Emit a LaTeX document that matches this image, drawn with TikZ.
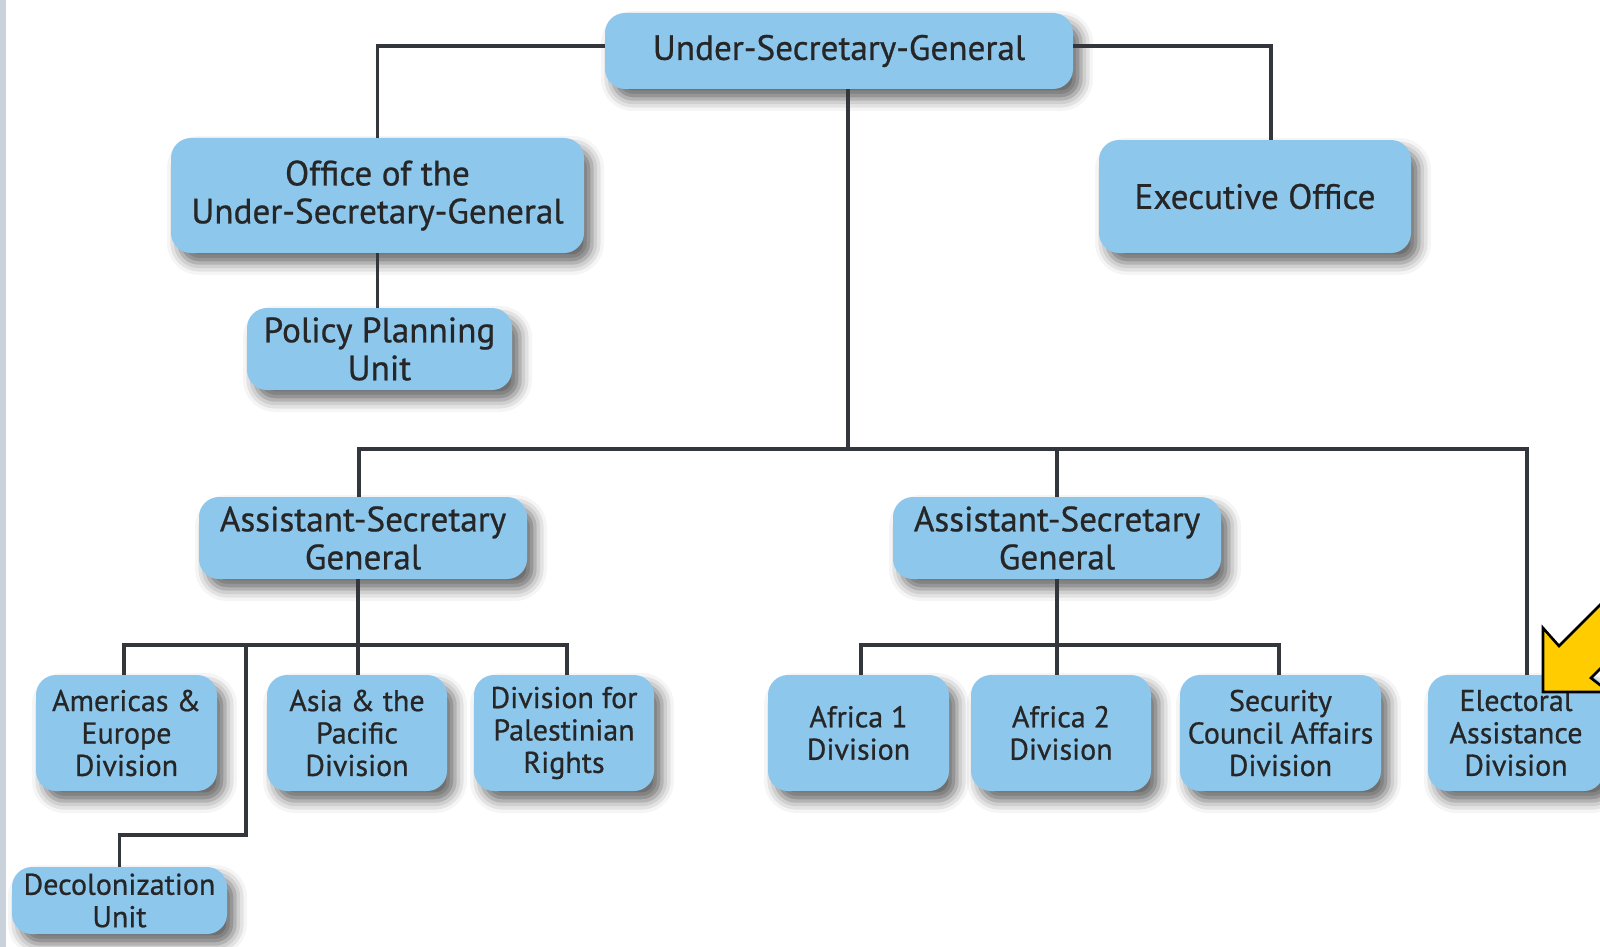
\documentclass[tikz,border=0pt]{standalone}
\usepackage{fontspec}
\setmainfont{PT Sans}
\newfontfamily\orgfont{PT Sans}[FakeBold=0.7]
\usetikzlibrary{shadows.blur}
\definecolor{boxblue}{HTML}{8EC7EC}
\definecolor{linegray}{HTML}{33373C}
\definecolor{textgray}{HTML}{262626}
\definecolor{stripgray}{HTML}{C9D1DA}
\definecolor{arrowgold}{HTML}{FFCC00}

\begin{document}
\begin{tikzpicture}[x=0.5pt, y=-0.5pt,
  orgbox/.style={fill=boxblue, rounded corners=10pt, align=center, text=textgray, inner sep=0pt,
    blur shadow={shadow xshift=4pt, shadow yshift=-5pt, shadow blur radius=6pt, shadow opacity=60}},
  bigbox/.style={orgbox, font=\orgfont\fontsize{17.6}{19}\selectfont},
  smallbox/.style={orgbox, font=\orgfont\fontsize{15}{16.2}\selectfont},
  link/.style={draw=linegray, line width=1.6pt}]
\useasboundingbox (0,0) rectangle (1600,947);
\clip (0,0) rectangle (1600,947);
\fill[stripgray] (0,0) rectangle (6,947);

% top level
\node[bigbox, minimum width=234pt, minimum height=38pt] (usg) at (839,51) {Under-Secretary-General};
\node[bigbox, minimum width=206.5pt, minimum height=57.5pt] (office) at (377.5,195.5) {Office of the\\Under-Secretary-General};
\node[bigbox, minimum width=156pt, minimum height=56.5pt] (exec) at (1255,196.5) {Executive Office};
\node[bigbox, minimum width=132.5pt, minimum height=41pt] (policy) at (379.5,349) {Policy Planning\\Unit};

% assistant secretaries
\node[bigbox, minimum width=164pt, minimum height=41pt] (asgA) at (363,538) {Assistant-Secretary\\General};
\node[bigbox, minimum width=164pt, minimum height=41pt] (asgB) at (1057,538) {Assistant-Secretary\\General};

% divisions
\node[smallbox, minimum width=90.5pt, minimum height=58pt] (americas) at (126.5,733) {Americas \&\\Europe\\Division};
\node[smallbox, minimum width=90pt, minimum height=58pt] (asia) at (357,733) {Asia \& the\\Pacific\\Division};
\node[smallbox, minimum width=90pt, minimum height=58pt] (palestine) at (564,733) {Division for\\Palestinian\\Rights};
\node[smallbox, minimum width=107.5pt, minimum height=33.5pt] (decol) at (119.5,900.5) {Decolonization\\Unit};
\node[smallbox, minimum width=90.5pt, minimum height=58pt] (africaA) at (858.5,733) {Africa 1\\Division};
\node[smallbox, minimum width=90pt, minimum height=58pt] (africaB) at (1061,733) {Africa 2\\Division};
\node[smallbox, minimum width=100.5pt, minimum height=58pt] (council) at (1280.5,733) {Security\\Council Affairs\\Division};
\node[smallbox, minimum width=88pt, minimum height=58pt] (electoral) at (1516,733) {Electoral\\Assistance\\Division};

% connectors
\coordinate (hub) at (848,449);
\coordinate (leftbus) at (358,645);
\coordinate (rightbus) at (1057,645);
\coordinate (decolbend) at (246,835);

\draw[link] (office.north) |- ([yshift=2.5pt]usg.west);
\draw[link] ([yshift=2.5pt]usg.east) -| ([xshift=8pt]exec.north);
\draw[link] (office.south) -- (office.south |- policy.north);
\draw[link] (hub |- usg.south) -- (hub);
\draw[link] ([xshift=-2pt]asgA.north) |- (hub) -| ([xshift=5.5pt]electoral.north);
\draw[link] (asgB.north) -- (asgB.north |- hub);

\draw[link] (leftbus |- asgA.south) -- (leftbus |- asia.north);
\draw[link] ([xshift=-1.25pt]americas.north) |- (leftbus) -| ([xshift=1.5pt]palestine.north);
\draw[link] (decolbend |- leftbus) -- (decolbend) -| (decol.north);

\draw[link] (asgB.south) -- (asgB.south |- africaB.north);
\draw[link] ([xshift=1.25pt]africaA.north) |- (rightbus) -| ([xshift=-0.75pt]council.north);

% pointer
\draw[fill=arrowgold, line width=1.3pt, line join=miter] (1543,692) -- (1543,628) -- (1559,646)
  -- (1659,546) -- (1691,578) -- (1591,678) -- (1609,692) -- cycle;
\end{tikzpicture}
\end{document}
